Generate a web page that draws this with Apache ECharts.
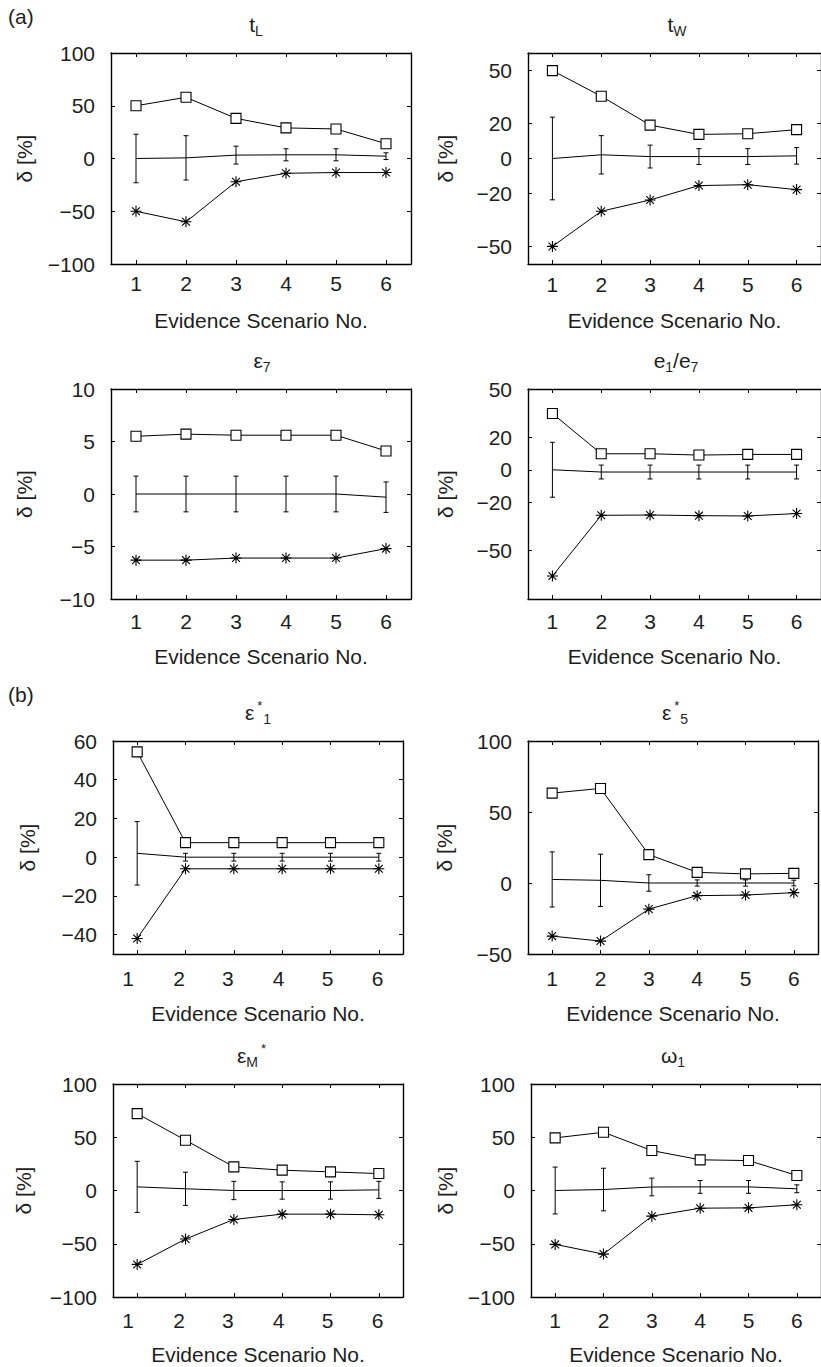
<!DOCTYPE html>
<html>
<head>
<meta charset="utf-8">
<script src="https://cdn.jsdelivr.net/npm/echarts@6/dist/echarts.min.js"></script>
<style>
  html, body { margin: 0; padding: 0; background: #fff; }
  #chart { width: 821px; height: 1367px; }
</style>
</head>
<body>
<div id="chart"></div>
<script>
// Evidence scenarios on the x axis
const scenarios = ['1', '2', '3', '4', '5', '6'];

// (a) t_L : upper bound, mean (with error half-width), lower bound  [%]
const tLUpper = [50, 58, 38, 29, 28, 14];
const tLMean  = [0, 0.6, 3.2, 3.5, 3.5, 2.2];
const tLErr   = [23, 21, 8.5, 5.7, 5.7, 3.2];
const tLLower = [-50, -60, -22, -14, -13.3, -13.3];
const tLTicks = [-100, -50, 0, 50, 100];

// (a) t_W
const tWUpper = [50, 35.4, 19, 13.7, 14.1, 16.4];
const tWMean  = [0, 2.1, 1.1, 1.1, 1.1, 1.5];
const tWErr   = [23.5, 10.9, 6.5, 4.5, 4.5, 4.7];
const tWLower = [-50, -30, -23.6, -15.4, -14.9, -17.7];
const tWTicks = [-50, -20, 0, 20, 50];

// (a) epsilon_7
const e7Upper = [5.5, 5.7, 5.6, 5.6, 5.6, 4.1];
const e7Mean  = [0, 0, 0, 0, 0, -0.3];
const e7Err   = [1.7, 1.7, 1.7, 1.7, 1.7, 1.45];
const e7Lower = [-6.3, -6.3, -6.1, -6.1, -6.1, -5.2];
const e7Ticks = [-10, -5, 0, 5, 10];

// (a) e_1 / e_7
const eRUpper = [34.8, 9.9, 9.9, 9.1, 9.5, 9.5];
const eRMean  = [0, -1.4, -1.4, -1.4, -1.4, -1.4];
const eRErr   = [17, 4.3, 4.3, 4.3, 4.3, 4.3];
const eRLower = [-65.8, -28.2, -28, -28.4, -28.6, -27.1];
const eRTicks = [-50, -20, 0, 20, 50];

// (b) epsilon*_1
const s1Upper = [54.4, 7.5, 7.5, 7.5, 7.5, 7.5];
const s1Mean  = [2, 0, 0, 0, 0, 0];
const s1Err   = [16.4, 2, 2, 2, 2, 2];
const s1Lower = [-42, -6, -6, -6, -6, -6];
const s1Ticks = [-40, -20, 0, 20, 40, 60];

// (b) epsilon*_5
const s5Upper = [63.3, 66.6, 20, 7.5, 6.4, 6.8];
const s5Mean  = [2.5, 1.9, 0, 0, 0, 0];
const s5Err   = [19.4, 18.4, 5.8, 2.2, 2.2, 2];
const s5Lower = [-37.4, -40.9, -18.4, -8.9, -8.5, -6.8];
const s5Ticks = [-50, 0, 50, 100];

// (b) epsilon_M*
const sMUpper = [72.2, 47.2, 22.2, 19.1, 17.5, 15.9];
const sMMean  = [3.4, 1.6, 0, 0, 0, 0.6];
const sMErr   = [24, 15.6, 8.6, 8.1, 8.1, 8];
const sMLower = [-69.4, -45.6, -27.2, -22.2, -22.2, -22.8];
const sMTicks = [-100, -50, 0, 50, 100];

// (b) omega_1
const w1Upper = [49.4, 54.7, 37.5, 28.8, 28.1, 14.1];
const w1Mean  = [0, 0.9, 3.3, 3.4, 3.4, 1.6];
const w1Err   = [22, 20, 8.3, 6, 6, 3.7];
const w1Lower = [-50.6, -59.7, -24.1, -16.6, -16.3, -13.4];
const w1Ticks = [-100, -50, 0, 50, 100];

const FONT = '"Liberation Sans", Arial, Helvetica, sans-serif';
const FS = 21;
const TEXT = '#1e1e1e';
const INK = '#000';

// asterisk marker: vertical, horizontal and both diagonals
const ASTERISK = 'path://M5,0L5,10M0,5L10,5M1.46,1.46L8.54,8.54M1.46,8.54L8.54,1.46';

// leftward nudge (px) of the x tick labels in the narrower lower-left panels
const nudgedLabels = [9, 6.5, 6, 3.5, 3, 1.3];

const panels = [
  { title: '{b|t}{s|L}', upper: tLUpper, mean: tLMean, err: tLErr, lower: tLLower, ticks: tLTicks, min: -100, max: 100,
    left: 111, top: 53, width: 300, height: 211, titleX: 256, yGap: 76, xGap: 46, xMargin: 9 },
  { title: '{b|t}{s|W}', upper: tWUpper, mean: tWMean, err: tWErr, lower: tWLower, ticks: tWTicks, min: -60, max: 60,
    left: 528, top: 53, width: 301, height: 211, titleX: 677, yGap: 72, xGap: 46, xMargin: 10 },
  { title: '{b|ε}{s|7}', upper: e7Upper, mean: e7Mean, err: e7Err, lower: e7Lower, ticks: e7Ticks, min: -10, max: 10,
    left: 111, top: 389, width: 300, height: 210, titleX: 262, yGap: 76, xGap: 47, xMargin: 12 },
  { title: '{b|e}{s|1}{b|/e}{s|7}', upper: eRUpper, mean: eRMean, err: eRErr, lower: eRLower, ticks: eRTicks, min: -80, max: 50,
    left: 528, top: 389, width: 301, height: 210, titleX: 676, yGap: 72, xGap: 47, xMargin: 12 },
  { title: '{b|ε}{p|*}{s|1}', upper: s1Upper, mean: s1Mean, err: s1Err, lower: s1Lower, ticks: s1Ticks, min: -50, max: 60,
    left: 113, top: 741, width: 290, height: 213, titleX: 258, yGap: 75, xGap: 49, xMargin: 14, nudge: nudgedLabels },
  { title: '{b|ε}{p|*}{s|5}', upper: s5Upper, mean: s5Mean, err: s5Err, lower: s5Lower, ticks: s5Ticks, min: -50, max: 100,
    left: 528, top: 741, width: 290, height: 213, titleX: 675, yGap: 73, xGap: 49, xMargin: 14 },
  { title: '{b|ε}{s|M}{p|*}', upper: sMUpper, mean: sMMean, err: sMErr, lower: sMLower, ticks: sMTicks, min: -100, max: 100,
    left: 113, top: 1084, width: 290, height: 213, titleX: 252, yGap: 79, xGap: 47, xMargin: 13, nudge: nudgedLabels },
  { title: '{b|ω}{s|1}', upper: w1Upper, mean: w1Mean, err: w1Err, lower: w1Lower, ticks: w1Ticks, min: -100, max: 100,
    left: 531, top: 1084, width: 290, height: 213, titleX: 673, yGap: 75, xGap: 47, xMargin: 13 }
];

const minusFmt = v => (v < 0 ? '\u2212' + (-v) : String(v));

const titleRich = {
  b: { fontSize: FS, fontWeight: 'normal', fontFamily: FONT, color: TEXT, lineHeight: 32 },
  s: { fontSize: 14, fontWeight: 'normal', fontFamily: FONT, color: TEXT, lineHeight: 32, padding: [14, 0, 0, 0] },
  p: { fontSize: 13, fontWeight: 'normal', fontFamily: FONT, color: TEXT, lineHeight: 32, padding: [0, 1, 14, 3] }
};

const option = {
  animation: false,
  backgroundColor: '#fff',
  textStyle: { fontFamily: FONT },
  title: [],
  grid: [],
  xAxis: [],
  yAxis: [],
  series: [],
  graphic: [
    { type: 'text', x: 8, y: 16, style: { text: '(a)', font: FS + 'px ' + FONT, fill: TEXT, verticalAlign: 'middle' } },
    { type: 'text', x: 8, y: 694, style: { text: '(b)', font: FS + 'px ' + FONT, fill: TEXT, verticalAlign: 'middle' } }
  ]
};

const axisLine = { show: true, onZero: false, lineStyle: { color: INK, width: 1.4 } };
const innerTick = { show: true, inside: true, length: 4, lineStyle: { color: INK, width: 1 } };

function xLabelStyle(p) {
  const base = { interval: 0, hideOverlap: false, margin: p.xMargin, fontSize: FS, color: TEXT, fontFamily: FONT };
  if (!p.nudge) return base;
  const rich = {};
  p.nudge.forEach((n, k) => {
    rich['n' + k] = { fontSize: FS, color: TEXT, fontFamily: FONT, padding: [0, 2 * n, 0, 0] };
  });
  return Object.assign(base, { rich, formatter: (v, idx) => '{n' + idx + '|' + v + '}' });
}

panels.forEach((p, i) => {
  option.title.push({
    text: p.title,
    left: p.titleX,
    top: p.top - 45,
    padding: 0,
    textAlign: 'center',
    textVerticalAlign: 'top',
    textStyle: { fontWeight: 'normal', rich: titleRich }
  });

  option.grid.push({ left: p.left, top: p.top, width: p.width, height: p.height, show: false });

  const xb = option.xAxis.length;
  option.xAxis.push({
    type: 'category', gridIndex: i, data: scenarios, position: 'bottom', boundaryGap: true,
    axisLine, axisTick: Object.assign({ alignWithLabel: true, interval: 0 }, innerTick),
    axisLabel: xLabelStyle(p),
    splitLine: { show: false },
    name: 'Evidence Scenario No.', nameLocation: 'middle', nameGap: p.xGap,
    nameTextStyle: { fontSize: FS, color: TEXT, fontFamily: FONT }
  });
  option.xAxis.push({
    type: 'category', gridIndex: i, data: scenarios, position: 'top', boundaryGap: true,
    axisLine, axisTick: Object.assign({ alignWithLabel: true, interval: 0 }, innerTick),
    axisLabel: { show: false, interval: 0 }, splitLine: { show: false }
  });

  const yl = option.yAxis.length;
  option.yAxis.push({
    type: 'value', gridIndex: i, position: 'left', min: p.min, max: p.max,
    axisLine, axisTick: Object.assign({ customValues: p.ticks }, innerTick),
    axisLabel: { customValues: p.ticks, formatter: minusFmt, margin: 16, fontSize: FS, color: TEXT, fontFamily: FONT },
    splitLine: { show: false },
    name: 'δ [%]', nameLocation: 'middle', nameGap: p.yGap, nameMoveOverlap: false,
    nameTextStyle: { fontSize: FS, color: TEXT, fontFamily: FONT }
  });
  option.yAxis.push({
    type: 'value', gridIndex: i, position: 'right', min: p.min, max: p.max,
    axisLine, axisTick: Object.assign({ customValues: p.ticks }, innerTick),
    axisLabel: { show: false }, splitLine: { show: false }
  });

  // upper bound: hollow squares
  option.series.push({
    type: 'line', xAxisIndex: xb, yAxisIndex: yl, data: p.upper,
    symbol: 'rect', symbolSize: 10,
    itemStyle: { color: '#fff', borderColor: INK, borderWidth: 1.1 },
    lineStyle: { color: INK, width: 1 }, z: 3
  });
  // mean line
  option.series.push({
    type: 'line', xAxisIndex: xb, yAxisIndex: yl, data: p.mean,
    showSymbol: false, symbol: 'none',
    lineStyle: { color: INK, width: 1 }, z: 2
  });
  // error bars around the mean
  option.series.push({
    type: 'custom', xAxisIndex: xb, yAxisIndex: yl,
    data: p.mean.map((m, k) => [k, m - p.err[k], m + p.err[k]]),
    encode: { x: 0, y: [1, 2] },
    renderItem: (params, api) => {
      const k = api.value(0);
      const lo = api.coord([k, api.value(1)]);
      const hi = api.coord([k, api.value(2)]);
      const hw = 2.5;
      const st = { stroke: INK, lineWidth: 1 };
      return {
        type: 'group',
        children: [
          { type: 'line', shape: { x1: lo[0], y1: lo[1], x2: hi[0], y2: hi[1] }, style: st },
          { type: 'line', shape: { x1: lo[0] - hw, y1: lo[1], x2: lo[0] + hw, y2: lo[1] }, style: st },
          { type: 'line', shape: { x1: hi[0] - hw, y1: hi[1], x2: hi[0] + hw, y2: hi[1] }, style: st }
        ]
      };
    },
    z: 2
  });
  // lower bound: asterisks
  option.series.push({
    type: 'line', xAxisIndex: xb, yAxisIndex: yl, data: p.lower,
    symbol: ASTERISK, symbolSize: 11,
    itemStyle: { color: INK, borderColor: INK, borderWidth: 1.1 },
    lineStyle: { color: INK, width: 1 }, z: 3
  });
});

const chart = echarts.init(document.getElementById('chart'), null, { renderer: 'svg' });
chart.setOption(option);
</script>
</body>
</html>
